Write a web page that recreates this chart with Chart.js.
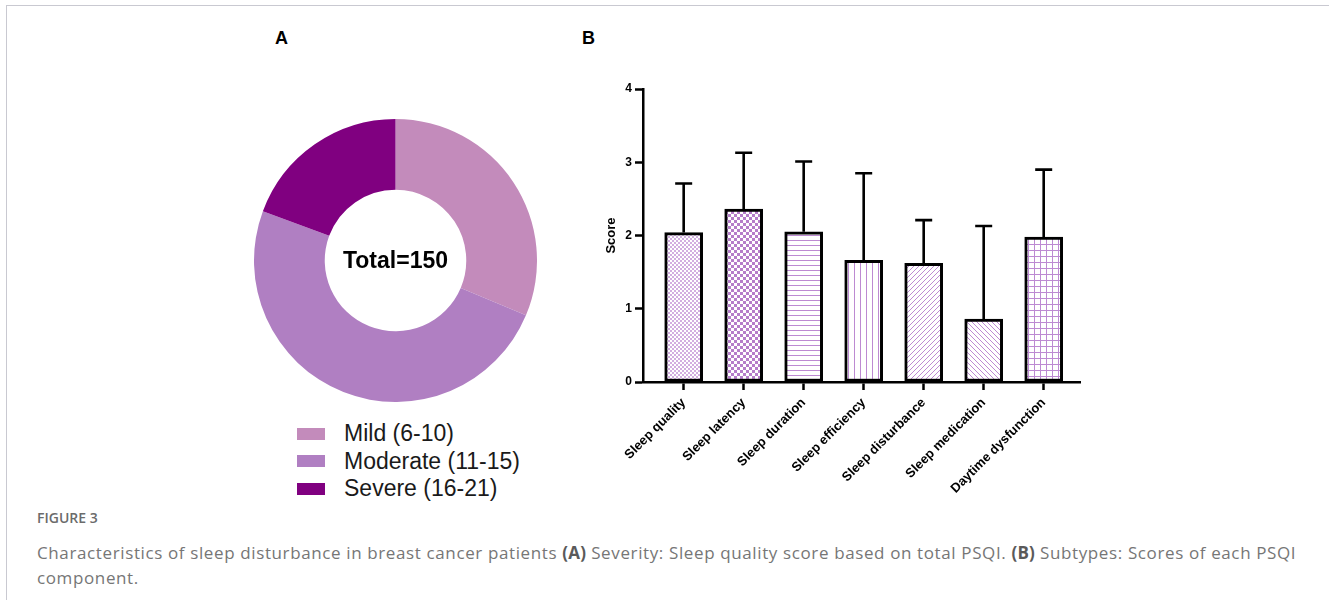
<!DOCTYPE html>
<html><head><meta charset="utf-8">
<script src="https://cdn.jsdelivr.net/npm/chart.js@4.4.1/dist/chart.umd.min.js"></script>
<style>
html,body{margin:0;padding:0;background:#fff;width:1329px;height:600px;overflow:hidden;font-family:"Liberation Sans",Arial,sans-serif;}
#frame{position:absolute;left:6px;top:5px;right:0;bottom:0;border-left:1px solid #c9c9d1;border-top:1px solid #c9c9d1;}
.panel{position:absolute;font-weight:bold;font-size:18px;color:#000;line-height:1;}
#donutWrap{position:absolute;left:254px;top:119px;width:283px;height:283px;}
#barWrap{position:absolute;left:590px;top:70px;width:520px;height:440px;}
#legend{position:absolute;left:297px;top:420px;}
.li{display:flex;align-items:center;height:27.5px;font-size:23px;color:#1a1a1a;white-space:nowrap;}
.sw{width:28px;height:12px;margin-right:19px;flex:none;}
#figlabel{position:absolute;left:37px;top:508px;font-family:"Open Sans",sans-serif;font-weight:600;font-size:14px;color:#6b6b6b;}
#caption{position:absolute;left:37px;top:540px;font-family:"Open Sans",sans-serif;font-size:17px;letter-spacing:0.62px;line-height:25px;color:#767676;white-space:nowrap;}
#caption b{color:#5a5a5a;letter-spacing:0.2px;}
</style></head>
<body>
<div id="frame"></div>
<div class="panel" style="left:275px;top:29px;">A</div>
<div class="panel" style="left:582px;top:29px;">B</div>
<div id="donutWrap"><canvas id="donut"></canvas></div>
<div id="legend"></div>
<div id="barWrap"><canvas id="bars"></canvas></div>
<div id="figlabel">FIGURE 3</div>
<div id="caption">Characteristics of sleep disturbance in breast cancer patients <b>(A)</b> Severity: Sleep quality score based on total PSQI. <b>(B)</b> Subtypes: Scores of each PSQI<br>component.</div>
<script>
// ---- Data ----
const severityLabels = ['Mild (6-10)', 'Moderate (11-15)', 'Severe (16-21)'];
const severityCounts = [47, 74, 29];
const totalLabel = 'Total=150';

const components = ['Sleep quality', 'Sleep latency', 'Sleep duration', 'Sleep efficiency', 'Sleep disturbance', 'Sleep medication', 'Daytime dysfunction'];
const meanScores = [2.04, 2.36, 2.05, 1.66, 1.62, 0.86, 1.98];
const sdScores = [0.67, 0.77, 0.96, 1.19, 0.59, 1.27, 0.92];
const yTicks = [0, 1, 2, 3, 4];
const yAxisTitle = 'Score';

// ---- Styles ----
const severityColors = ['#c38bbb', '#b07fc2', '#800080'];
const FONT = "'Liberation Sans', Arial, sans-serif";
const patternKinds = ['fineCheck', 'check', 'hlines', 'vlines', 'diagUp', 'diagDown', 'grid'];

function makePattern(kind) {
  const c = document.createElement('canvas');
  const x = c.getContext('2d');
  let s = 6;
  if (kind === 'fineCheck') s = 4;
  if (kind === 'hlines') s = 5;
  if (kind === 'vlines') s = 6;
  if (kind === 'diagUp' || kind === 'diagDown') s = 5;
  c.width = s; c.height = s;
  x.fillStyle = '#fff'; x.fillRect(0, 0, s, s);
  const col = '#bd8ad2';
  x.fillStyle = col; x.strokeStyle = col;
  if (kind === 'fineCheck') {
    x.fillStyle = '#d2aee0';
    x.fillRect(0, 0, 2, 2); x.fillRect(2, 2, 2, 2);
  } else if (kind === 'check') {
    x.fillStyle = '#b57dca';
    x.fillRect(0, 0, 3, 3); x.fillRect(3, 3, 3, 3);
  } else if (kind === 'hlines') {
    x.fillRect(0, 0, s, 1);
  } else if (kind === 'vlines') {
    x.fillRect(0, 0, 1, s);
  } else if (kind === 'grid') {
    x.fillRect(0, 0, s, 1); x.fillRect(0, 0, 1, s);
  } else if (kind === 'diagUp') {
    x.lineWidth = 1;
    x.beginPath(); x.moveTo(-1, s + 1); x.lineTo(s + 1, -1);
    x.moveTo(-1, 1); x.lineTo(1, -1); x.moveTo(s - 1, s + 1); x.lineTo(s + 1, s - 1); x.stroke();
  } else if (kind === 'diagDown') {
    x.lineWidth = 1;
    x.beginPath(); x.moveTo(-1, -1); x.lineTo(s + 1, s + 1);
    x.moveTo(s - 1, -1); x.lineTo(s + 1, 1); x.moveTo(-1, s - 1); x.lineTo(1, s + 1); x.stroke();
  }
  return x.createPattern(c, 'repeat');
}

// ---- Legend (HTML) ----
const lg = document.getElementById('legend');
severityLabels.forEach((l, i) => {
  const row = document.createElement('div'); row.className = 'li';
  const sw = document.createElement('span'); sw.className = 'sw'; sw.style.background = severityColors[i];
  const t = document.createElement('span'); t.textContent = l;
  row.appendChild(sw); row.appendChild(t); lg.appendChild(row);
});

// ---- Doughnut ----
const centerText = {
  id: 'centerText',
  afterDraw(chart) {
    const a = chart.chartArea, ctx = chart.ctx;
    ctx.save();
    ctx.font = 'bold 23px ' + FONT;
    ctx.fillStyle = '#000'; ctx.textAlign = 'center'; ctx.textBaseline = 'middle';
    ctx.fillText(totalLabel, (a.left + a.right) / 2, (a.top + a.bottom) / 2 + 1);
    ctx.restore();
  }
};
new Chart(document.getElementById('donut'), {
  type: 'doughnut',
  data: { labels: severityLabels, datasets: [{ data: severityCounts, backgroundColor: severityColors, borderWidth: 0 }] },
  options: {
    responsive: true, maintainAspectRatio: false, animation: false,
    cutout: '50%',
    layout: { padding: 0 },
    plugins: { legend: { display: false }, tooltip: { enabled: false } }
  },
  plugins: [centerText]
});

// ---- Bar chart ----
const errorBars = {
  id: 'errorBars',
  afterDatasetsDraw(chart) {
    const ctx = chart.ctx, xs = chart.scales.x, ys = chart.scales.y;
    ctx.save();
    ctx.strokeStyle = '#000'; ctx.lineWidth = 2.6; ctx.lineCap = 'butt';
    meanScores.forEach((m, i) => {
      const x = xs.getPixelForValue(i);
      const y0 = ys.getPixelForValue(m);
      const y1 = ys.getPixelForValue(m + sdScores[i]);
      ctx.beginPath();
      ctx.moveTo(x, y0); ctx.lineTo(x, y1);
      ctx.moveTo(x - 8.5, y1); ctx.lineTo(x + 8.5, y1);
      ctx.stroke();
    });
    ctx.restore();
  }
};

new Chart(document.getElementById('bars'), {
  type: 'bar',
  data: {
    datasets: [{
      data: meanScores.map((v, i) => ({ x: i, y: v })),
      backgroundColor: patternKinds.map(makePattern),
      borderColor: '#000', borderWidth: 3, borderSkipped: false,
      barThickness: 38
    }]
  },
  options: {
    responsive: true, maintainAspectRatio: false, animation: false,
    layout: { padding: { top: 19, right: 30, left: 0, bottom: 0 } },
    plugins: { legend: { display: false }, tooltip: { enabled: false } },
    scales: {
      x: {
        type: 'linear', min: -0.678, max: 6.605, offset: false,
        grid: { offset: false, drawOnChartArea: false, drawTicks: true, tickLength: 8, tickColor: '#000', tickWidth: 2.5 },
        border: { display: true, color: '#000', width: 2.5 },
        afterBuildTicks: s => { s.ticks = components.map((c, i) => ({ value: i })); },
        afterFit: s => { s.height = 128; },
        ticks: {
          autoSkip: false, maxRotation: 45, minRotation: 45, color: '#000', padding: 5,
          font: { family: FONT, weight: 'bold', size: 13 },
          callback: v => components[v]
        }
      },
      y: {
        min: 0, max: 4,
        grid: { drawOnChartArea: false, drawTicks: true, tickLength: 8, tickColor: '#000', tickWidth: 2.5 },
        border: { display: true, color: '#000', width: 2.5 },
        afterBuildTicks: s => { s.ticks = yTicks.map(v => ({ value: v })); },
        afterFit: s => { s.width = 53; },
        ticks: { color: '#000', padding: 3, font: { family: FONT, weight: 'bold', size: 12 } },
        title: { display: true, text: yAxisTitle, color: '#000', padding: { top: 14, bottom: 0 }, font: { family: FONT, weight: 'bold', size: 13 } }
      }
    }
  },
  plugins: [errorBars]
});
</script>
</body></html>
